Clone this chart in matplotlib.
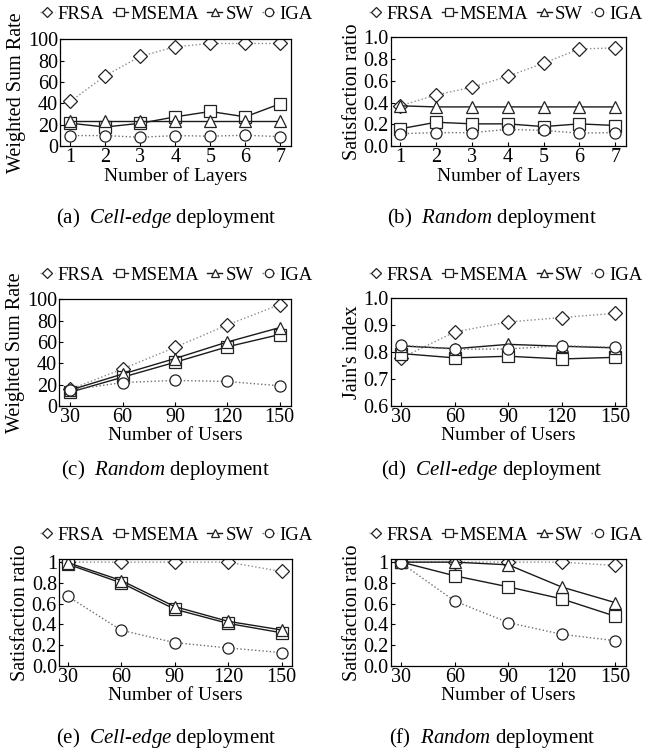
import matplotlib
matplotlib.use("Agg")
import matplotlib.pyplot as plt

plt.rcParams["font.family"] = ["Liberation Serif", "DejaVu Serif"]
plt.rcParams["mathtext.fontset"] = "custom"
plt.rcParams["mathtext.rm"] = "Liberation Serif"
plt.rcParams["mathtext.it"] = "Liberation Serif:italic"

# ---------------------------------------------------------------------
# data
# ---------------------------------------------------------------------
methods = ["FRSA", "MSEMA", "SW", "IGA"]
layers = [1, 2, 3, 4, 5, 6, 7]
users = [30, 60, 90, 120, 150]

# (a) weighted sum rate vs layers, cell-edge
a_frsa = [42, 66, 84, 93, 96, 96, 96]
a_msema = [21.5, 18, 21.5, 27.5, 32.5, 27.5, 39.7]
a_sw = [24, 24, 24, 24, 24, 24, 24]
a_iga = [10, 10, 8.4, 10, 9.4, 10.3, 9]

# (b) satisfaction ratio vs layers, random
b_frsa = [0.37, 0.47, 0.54, 0.64, 0.76, 0.89, 0.90]
b_msema = [0.16, 0.22, 0.205, 0.205, 0.18, 0.205, 0.19]
b_sw = [0.37, 0.36, 0.36, 0.36, 0.36, 0.36, 0.36]
b_iga = [0.115, 0.125, 0.125, 0.155, 0.145, 0.12, 0.125]

# (c) weighted sum rate vs users, random
c_frsa = [15.7, 34.8, 55, 76, 95]
c_msema = [13, 27, 41, 55.5, 67]
c_sw = [15, 30, 44.5, 60, 73.5]
c_iga = [15, 22, 24, 23, 19]

# (d) Jain's index vs users, cell-edge
d_frsa = [0.778, 0.874, 0.911, 0.927, 0.943]
d_msema = [0.794, 0.778, 0.784, 0.774, 0.780]
d_sw = [0.822, 0.812, 0.828, 0.821, 0.815]
d_iga = [0.825, 0.810, 0.811, 0.823, 0.817]

# (e) satisfaction ratio vs users, cell-edge
e_frsa = [1.0, 1.0, 1.0, 1.0, 0.91]
e_msema = [0.98, 0.80, 0.547, 0.41, 0.32]
e_sw = [0.995, 0.823, 0.572, 0.43, 0.347]
e_iga = [0.67, 0.344, 0.225, 0.174, 0.129]

# (f) satisfaction ratio vs users, random
f_frsa = [1.0, 1.0, 1.0, 1.0, 0.968]
f_msema = [1.0, 0.868, 0.762, 0.646, 0.479]
f_sw = [1.0, 1.0, 0.974, 0.76, 0.61]
f_iga = [0.99, 0.624, 0.418, 0.305, 0.244]

# ---------------------------------------------------------------------
# styles
# ---------------------------------------------------------------------
styles = {
    "FRSA": dict(color="#8c8c8c", ls=":", marker="D", ms=7),
    "MSEMA": dict(color="#1a1a1a", ls="-", marker="s", ms=8),
    "SW": dict(color="#1a1a1a", ls="-", marker="^", ms=8),
    "IGA": dict(color="#6e6e6e", ls=":", marker="o", ms=8),
}

fig = plt.figure(figsize=(6.48, 7.54), dpi=100)


def panel(rect, x, series, xlim, ylim, yticks, yticklabels, xlabel, ylabel,
          leg_xy, caption, cap_xy):
    ax = fig.add_axes(rect)
    for name, ys in zip(methods, series):
        st = styles[name]
        ax.plot(x, ys, color=st["color"], linestyle=st["ls"], lw=1.0,
                marker=st["marker"], ms=st["ms"], mfc="white",
                mec="#222222", mew=0.9, label=name)
    ax.set_xlim(*xlim)
    ax.set_ylim(*ylim)
    ax.set_xticks(x)
    ax.set_yticks(yticks)
    ax.set_yticklabels(yticklabels)
    ax.tick_params(direction="in", labelsize=14.5, length=3, pad=1.5)
    ax.set_xlabel(xlabel, fontsize=14, labelpad=0)
    ax.set_ylabel(ylabel, fontsize=14.5, labelpad=1)
    for s in ax.spines.values():
        s.set_linewidth(0.9)
    ax.legend(loc="center", bbox_to_anchor=leg_xy,
              bbox_transform=fig.transFigure, ncol=4, frameon=False,
              fontsize=13.5, handlelength=0.8, handletextpad=0.15,
              columnspacing=0.45, borderaxespad=0, borderpad=0,
              markerscale=0.75)
    fig.text(cap_xy[0], cap_xy[1], caption, fontsize=15,
             ha="center", va="center")
    return ax


sr_ticks = [0.0, 0.2, 0.4, 0.6, 0.8, 1.0]

panel([0.0926, 0.806, 0.356, 0.142], layers,
      [a_frsa, a_msema, a_sw, a_iga], (0.7, 7.3), (0, 100),
      [0, 20, 40, 60, 80, 100], ["0", "20", "40", "60", "80", "100"],
      "Number of Layers", "Weighted Sum Rate", (0.272, 0.981),
      r"(a)  $\mathit{Cell}$-$\mathit{edge}$ deployment", (0.256, 0.711))

panel([0.603, 0.806, 0.363, 0.145], layers,
      [b_frsa, b_msema, b_sw, b_iga], (0.73, 7.3), (0, 1.0),
      sr_ticks, ["0.0", "0.2", "0.4", "0.6", "0.8", "1.0"],
      "Number of Layers", "Satisfaction ratio", (0.78, 0.981),
      r"(b)  $\mathit{Random}$ deployment", (0.759, 0.711))

panel([0.091, 0.4615, 0.358, 0.1415], users,
      [c_frsa, c_msema, c_sw, c_iga], (23.5, 156.5), (0, 100),
      [0, 20, 40, 60, 80, 100], ["0", "20", "40", "60", "80", "100"],
      "Number of Users", "Weighted Sum Rate", (0.272, 0.635),
      r"(c)  $\mathit{Random}$ deployment", (0.256, 0.377))

panel([0.603, 0.4615, 0.363, 0.1435], users,
      [d_frsa, d_msema, d_sw, d_iga], (24, 156), (0.6, 1.0),
      [0.6, 0.7, 0.8, 0.9, 1.0], ["0.6", "0.7", "0.8", "0.9", "1.0"],
      "Number of Users", "Jain's index", (0.78, 0.635),
      r"(d)  $\mathit{Cell}$-$\mathit{edge}$ deployment", (0.759, 0.377))

panel([0.091, 0.1167, 0.36, 0.1419], users,
      [e_frsa, e_msema, e_sw, e_iga], (25, 156), (0, 1.03),
      sr_ticks, ["0.0", "0.2", "0.4", "0.6", "0.8", "1"],
      "Number of Users", "Satisfaction ratio", (0.272, 0.29),
      r"(e)  $\mathit{Cell}$-$\mathit{edge}$ deployment", (0.256, 0.021))

panel([0.603, 0.1167, 0.363, 0.1419], users,
      [f_frsa, f_msema, f_sw, f_iga], (24, 156), (0, 1.03),
      sr_ticks, ["0.0", "0.2", "0.4", "0.6", "0.8", "1"],
      "Number of Users", "Satisfaction ratio", (0.78, 0.29),
      r"(f)  $\mathit{Random}$ deployment", (0.759, 0.021))

fig.savefig("out.png", dpi=100)
